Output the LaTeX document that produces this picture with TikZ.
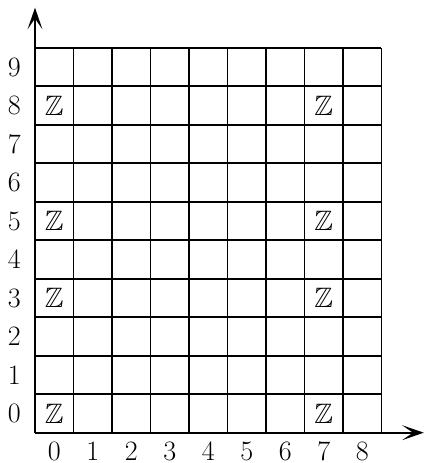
\documentclass[tikz,border=0pt]{standalone}
\usepackage{amsmath,amssymb}
\usetikzlibrary{arrows.meta}

\begin{document}
\begin{tikzpicture}[
  >={Stealth[length=16pt,width=11pt,inset=8pt]},
  gridline/.style={black,line width=1.3pt},
  axisline/.style={->,black,line width=1.5pt},
  lbl/.style={font=\huge,inner sep=0pt},
]
\useasboundingbox (-0.909,-0.787) rectangle (10.13,11.24);

% ===================================================================
% Grid of cells
% ===================================================================
\draw[gridline] (0,0) grid (9,10);

% ===================================================================
% Axes
% ===================================================================
\coordinate (origin) at (0,0);
\coordinate (xend) at (10.1,0);
\coordinate (yend) at (0,11.04);
\draw[axisline] (origin) -- (xend);
\draw[axisline] (origin) -- (yend);

% row and column numbers
\foreach \y in {0,...,9} { \node[lbl] (row\y) at (-0.54,\y+0.5) {$\y$}; }
\foreach \x in {0,...,8} { \node[lbl] (col\x) at (\x+0.5,-0.48) {$\x$}; }

% ===================================================================
% Marked cells
% ===================================================================
\foreach \x in {0,7} {
  \foreach \y in {0,3,5,8} { \node[lbl] (z\x\y) at (\x+0.5,\y+0.5) {$\mathbb{Z}$}; }
}

\end{tikzpicture}
\end{document}
